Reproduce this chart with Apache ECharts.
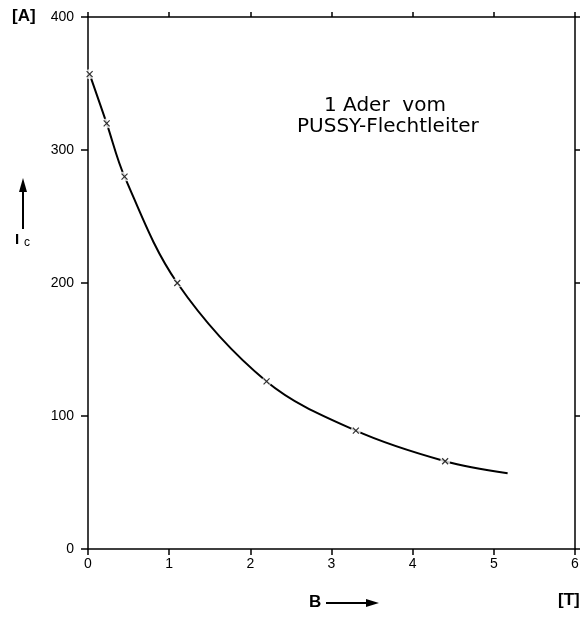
<!DOCTYPE html>
<html>
<head>
<meta charset="utf-8">
<script src="https://cdn.jsdelivr.net/npm/echarts@6/dist/echarts.min.js"></script>
<style>
  html, body { margin: 0; padding: 0; background: #fff; }
  #chart { width: 584px; height: 621px; }
</style>
</head>
<body>
<div id="chart"></div>
<script>
// messpunkte (B in T, Ic in A)
const fieldB = [0.02, 0.23, 0.45, 1.1, 2.2, 3.3, 4.4];
const currentIc = [357, 320, 280, 200, 126, 89, 66];
// kurve endet rechts von letztem punkt
const curveEnd = [5.17, 57];
const xTicks = [0, 1, 2, 3, 4, 5, 6];
const yTicks = [0, 100, 200, 300, 400];

const chart = echarts.init(document.getElementById("chart"));

const points = fieldB.map((b, i) => [b, currentIc[i]]);
const curve = points.concat([curveEnd]);

const labelFont = { color: "#000", fontSize: 14, fontFamily: "Liberation Sans, Arial, sans-serif" };
const lineStyle = { color: "#000", width: 1.5 };

const option = {
  backgroundColor: "#fff",
  animation: false,
  grid: { left: 88, right: 9, top: 17, bottom: 72 },
  xAxis: [
    {
      type: "value", min: xTicks[0], max: xTicks[xTicks.length - 1], interval: 1,
      axisLine: { show: true, onZero: false, lineStyle },
      axisTick: { show: true, length: 6, lineStyle },
      axisLabel: { ...labelFont, margin: 8 },
      splitLine: { show: false },
    },
    {
      type: "value", position: "top", min: 0, max: 6, interval: 1,
      axisLine: { show: true, onZero: false, lineStyle },
      axisTick: { show: true, length: 5, lineStyle },
      axisLabel: { show: false },
      splitLine: { show: false },
    },
  ],
  yAxis: [
    {
      type: "value", min: yTicks[0], max: yTicks[yTicks.length - 1], interval: 100,
      axisLine: { show: true, onZero: false, lineStyle },
      axisTick: { show: true, length: 7, lineStyle },
      axisLabel: { ...labelFont, margin: 14 },
      splitLine: { show: false },
    },
    {
      type: "value", position: "right", min: 0, max: 400, interval: 100,
      axisLine: { show: true, onZero: false, lineStyle },
      axisTick: { show: true, length: 5, lineStyle },
      axisLabel: { show: false },
      splitLine: { show: false },
    },
  ],
  series: [
    {
      type: "line",
      data: curve,
      smooth: 0.35,
      showSymbol: false,
      lineStyle: { color: "#000", width: 2 },
      z: 2,
    },
    {
      // weisse luecke um die kreuze
      type: "scatter",
      data: points,
      symbol: "circle",
      symbolSize: 10,
      itemStyle: { color: "#fff" },
      z: 3,
    },
    {
      type: "scatter",
      data: points,
      symbol: "path://M0,0L10,10M10,0L0,10",
      symbolSize: 6,
      itemStyle: { color: "none", borderColor: "#000", borderWidth: 1.2 },
      z: 4,
    },
  ],
  graphic: [
    {
      type: "text", left: 12, top: 8,
      style: { text: "[A]", fill: "#000", font: "bold 17px Liberation Sans, Arial, sans-serif" },
    },
    {
      type: "line", shape: { x1: 23, y1: 186, x2: 23, y2: 229 },
      style: { stroke: "#000", lineWidth: 2 },
    },
    {
      type: "polygon", shape: { points: [[19, 192], [23, 178], [27, 192]] },
      style: { fill: "#000" },
    },
    {
      type: "text", left: 15, top: 232,
      style: { text: "I", fill: "#000", font: "bold 15px Liberation Sans, Arial, sans-serif" },
    },
    {
      type: "text", left: 24, top: 237,
      style: { text: "c", fill: "#000", font: "12px Liberation Sans, Arial, sans-serif" },
    },
    {
      type: "text", left: 309, top: 594,
      style: { text: "B", fill: "#000", font: "bold 17px Liberation Sans, Arial, sans-serif" },
    },
    {
      type: "line", shape: { x1: 326, y1: 603, x2: 370, y2: 603 },
      style: { stroke: "#000", lineWidth: 2 },
    },
    {
      type: "polygon", shape: { points: [[366, 599], [379, 603], [366, 607]] },
      style: { fill: "#000" },
    },
    {
      type: "text", left: 558, top: 592,
      style: { text: "[T]", fill: "#000", font: "bold 17px Liberation Sans, Arial, sans-serif" },
    },
    {
      type: "text", left: 324, top: 96,
      style: { text: "1 Ader  vom", fill: "#000", font: "20px DejaVu Sans, sans-serif" },
    },
    {
      type: "text", left: 297, top: 117,
      style: { text: "PUSSY-Flechtleiter", fill: "#000", font: "20px DejaVu Sans, sans-serif" },
    },
  ],
};

chart.setOption(option);
</script>
</body>
</html>
